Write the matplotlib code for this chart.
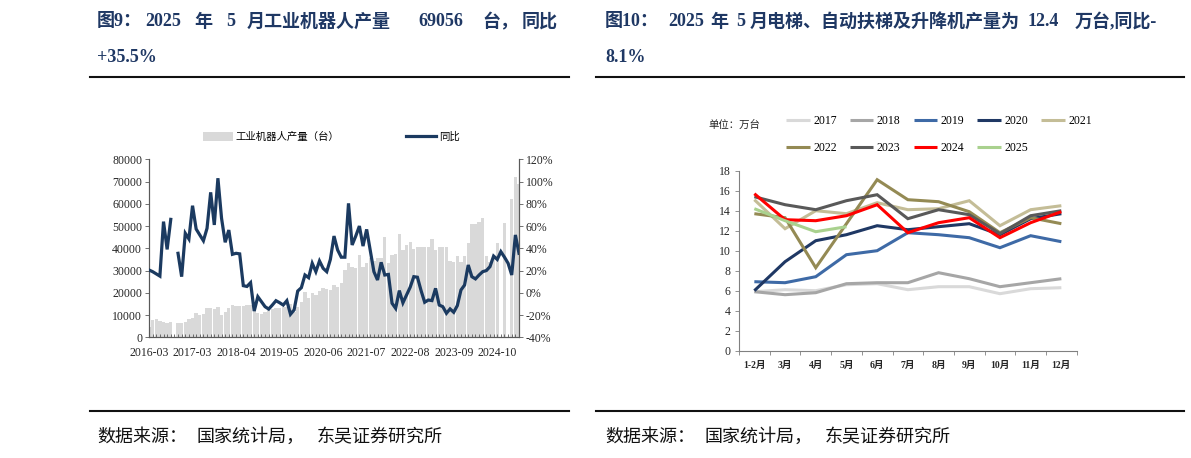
import numpy as np
import matplotlib
matplotlib.use("Agg")
import matplotlib.pyplot as plt
from matplotlib.patches import Patch
from matplotlib.lines import Line2D
from matplotlib.ticker import FixedLocator, FuncFormatter, MultipleLocator

nan = np.nan

# ---------------- Left chart data: industrial robot output ----------------
# months: 2016-03 .. 2017-02 full, afterwards January merged (Feb .. Dec), up to 2025-05
months = [f"2016-{m:02d}" for m in range(3, 13)] + ["2017-01", "2017-02"]
months += [f"2017-{m:02d}" for m in range(3, 13)]
for yr in range(2018, 2025):
    months += [f"{yr}-{m:02d}" for m in range(2, 13)]
months += [f"2025-{m:02d}" for m in range(2, 6)]

robot_output = [
    4800, 7800, 8200, 7500, 7000, 6600, 7000, nan, 6300, 6300,
    7000, 8100, 8500, 10800, 10200, 10500, 13000, 13000, 12700, 13500,
    10000, 11500, 13000, 14500, 14200, 14100, 14200, 14500, 14500, 15300,
    10800, 10300, 11500, 12300, 12700, 13000, 13300, 13800, 13800, 15000,
    11500, 13800, 16000, 20500, 17500, 19800, 19000, 21000, 22000, 21600,
    21300, 23500, 22800, 24300, 30200, 33500, 31400, 31000, 37000, 31400,
    33200, 35500, 34500, 35500, 35500, 45000, 33200, 37000, 37500, 46400,
    39200, 41500, 43000, 39600, 40400, 40700, 40700, 40500, 44000, 39200,
    40700, 40700, 40400, 34500, 33700, 36600, 33700, 36600, 42200, 51000,
    51000, 52000, 53500, 36600, 33700, 36600, 42200, nan, 51200, nan,
    62200, 72000, 69056,
]

robot_yoy = [
    20.5, 19, 17, 15, 64, 39, 66, nan, 35.5, 14.5,
    53.5, 48.4, 78.3, 57.3, 52, 46.8, 58, 90.3, 61, 103,
    67, 45.4, 56.4, 34.6, 35.5, 35, 6.4, 5.7, 9.1, -16.4,
    -3.5, -8, -12.5, -14.6, -11, -7.1, -8.9, -11, -7.1, -19.3,
    -15.4, 1.6, 4.6, 16, 13.6, 26.5, 19, 28.6, 22, 19,
    30, 51, 38.5, 32, 32, 80.4, 43, 51, 60, 42,
    57, 38, 19, 11.5, 27.4, 16, 16.5, -9.4, -14, 2,
    -9, -2, 5, 14.5, 14, 2, -8.5, -6.5, -7, 4,
    -11, -12.5, -18.4, -14.5, -17.5, -11.5, 2.5, 7, 25, 14.5,
    12.5, 16, 19, 20, 23.5, 33, 30, 37, 32, 26.5,
    16, 52, 35.5,
]

left_legend = ["工业机器人产量（台）", "同比"]

# ---------------- Right chart data: elevators etc. (万台) ----------------
month_labels = ["1-2月", "3月", "4月", "5月", "6月", "7月", "8月", "9月", "10月", "11月", "12月"]
y2017 = [5.9, 6.1, 6.0, 6.6, 6.7, 6.1, 6.4, 6.4, 5.7, 6.2, 6.3]
y2018 = [5.9, 5.6, 5.8, 6.7, 6.8, 6.8, 7.8, 7.2, 6.4, 6.8, 7.2]
y2019 = [6.9, 6.8, 7.4, 9.6, 10.0, 11.8, 11.6, 11.3, 10.3, 11.5, 10.9]
y2020 = [6.0, 8.9, 11.0, 11.6, 12.5, 12.1, 12.4, 12.7, 11.6, 13.2, 13.7]
y2021 = [15.1, 12.2, 14.0, 13.7, 14.8, 14.1, 14.2, 15.0, 12.5, 14.1, 14.5]
y2022 = [13.7, 13.3, 8.3, 12.7, 17.1, 15.1, 14.9, 13.9, 11.8, 13.3, 12.7]
y2023 = [15.4, 14.6, 14.1, 15.0, 15.6, 13.2, 14.1, 13.6, 11.7, 13.5, 14.0]
y2024 = [15.7, 13.1, 13.0, 13.5, 14.6, 11.8, 12.8, 13.3, 11.3, 12.8, 13.9]
y2025 = [14.2, 13.0, 11.9, 12.4]
year_names = ["2017", "2018", "2019", "2020", "2021", "2022", "2023", "2024", "2025"]
year_series = [y2017, y2018, y2019, y2020, y2021, y2022, y2023, y2024, y2025]
year_colors = ["#d9d9d9", "#a6a6a6", "#3e6aa6", "#1f3864", "#c4bd97",
               "#948a54", "#595959", "#ff0000", "#a9d18e"]

# ---------------- Figure ----------------
W, H = 1191, 458
fig = plt.figure(figsize=(W / 100, H / 100), dpi=100)
fig.patch.set_facecolor("white")


def px(x):
    return x / W


def py(y):
    return 1 - y / H


SERIF_CJK = ["Liberation Serif", "Noto Sans CJK SC"]
TITLE_C = "#1f3864"
NAVY = "#1b3a60"
SPINE_C = "#595959"
TXT_C = "#262626"
TFS = 13

# ----- titles -----
left_title_parts = [("图9：", 97), ("2025", 145), ("年", 194), ("5", 226),
                    ("月工业机器人产量", 247), ("69056", 418), ("台，", 482), ("同比", 522)]
for s, x in left_title_parts:
    fig.text(px(x), py(22), s, family=SERIF_CJK, weight="bold", fontsize=TFS,
             color=TITLE_C, ha="left", va="center")
fig.text(px(97), py(58), "+35.5%", family=SERIF_CJK, weight="bold", fontsize=TFS,
         color=TITLE_C, ha="left", va="center")

right_title_parts = [("图10：", 605), ("2025", 668), ("年", 710), ("5", 736),
                     ("月电梯、自动扶梯及升降机产量为", 750), ("12.4", 1028), ("万台,同比-", 1075)]
for s, x in right_title_parts:
    fig.text(px(x), py(22), s, family=SERIF_CJK, weight="bold", fontsize=TFS,
             color=TITLE_C, ha="left", va="center")
fig.text(px(605), py(58), "8.1%", family=SERIF_CJK, weight="bold", fontsize=TFS,
         color=TITLE_C, ha="left", va="center")

# separator lines
for (x0, x1) in [(90, 569), (596, 1184)]:
    for yy in (77, 411):
        fig.add_artist(Line2D([px(x0), px(x1)], [py(yy), py(yy)], color="#111111", lw=1.5))

# sources
src_parts = [("数据来源：", 0), ("国家统计局，", 100), ("东吴证券研究所", 220)]
for base in (97, 605):
    for s, dx in src_parts:
        fig.text(px(base + dx), py(437), s, family=["Noto Sans CJK SC"], fontsize=13,
                 color="#111111", ha="left", va="center")

# ----- left chart -----
ax1 = fig.add_axes([px(149), py(337.3), px(519) - px(149), py(159.3) - py(337.3)])
x = np.arange(len(robot_output))
ax1.bar(x, robot_output, width=0.92, color="#d9d9d9", linewidth=0, zorder=1)
ax1.set_xlim(0, len(robot_output) - 1)
ax1.set_ylim(0, 80000)
ax1.yaxis.set_major_locator(MultipleLocator(10000))
ax1.xaxis.set_major_locator(FixedLocator(x[::12]))
ax1.set_xticklabels([months[i] for i in x[::12]])
ax1.xaxis.set_minor_locator(FixedLocator(x))
ax1.tick_params(axis="x", which="both", length=2.5, width=0.6, color=SPINE_C, direction="in",
                labelsize=8.5, labelcolor=TXT_C, pad=7)
ax1.tick_params(axis="y", length=3, width=0.6, color=SPINE_C, labelsize=8.5, labelcolor=TXT_C, pad=2)
for lab in ax1.get_xticklabels() + ax1.get_yticklabels():
    lab.set_family("Liberation Serif")
ax1.spines["top"].set_visible(False)
for side in ("left", "right", "bottom"):
    ax1.spines[side].set_color(SPINE_C)
    ax1.spines[side].set_linewidth(0.8)
ax1.patch.set_alpha(0)

ax2 = ax1.twinx()
ax2.plot(x, robot_yoy, color=NAVY, lw=2.3, solid_joinstyle="miter", zorder=3)
ax2.set_ylim(-40, 120)
ax2.yaxis.set_major_locator(MultipleLocator(20))
ax2.yaxis.set_major_formatter(FuncFormatter(lambda v, p: f"{v:.0f}%"))
ax2.tick_params(axis="y", length=3, width=0.6, color=SPINE_C, labelsize=8.5, labelcolor=TXT_C, pad=2)
for lab in ax2.get_yticklabels():
    lab.set_family("Liberation Serif")
ax2.spines["top"].set_visible(False)
for side in ("left", "right", "bottom"):
    ax2.spines[side].set_color(SPINE_C)
    ax2.spines[side].set_linewidth(0.8)

fig.legend([Patch(facecolor="#d9d9d9", edgecolor="none"), Line2D([], [], color=NAVY, lw=2.3)],
           left_legend, loc="center left", bbox_to_anchor=(px(203), py(137)), ncol=2,
           frameon=False, prop={"family": ["Noto Sans CJK SC"], "size": 7.5},
           handlelength=2.9, handleheight=1.0, handletextpad=0.25, columnspacing=6.4,
           borderpad=0, borderaxespad=0)

# ----- right chart -----
ax3 = fig.add_axes([px(739), py(350.7), px(1076.7) - px(739), py(170.7) - py(350.7)])
handles = {}
for name, ser, col in zip(year_names, year_series, year_colors):
    (h,) = ax3.plot(np.arange(len(ser)), ser, color=col, lw=2.2, solid_joinstyle="miter",
                    solid_capstyle="butt", label=name)
    handles[name] = h
ax3.set_xlim(-0.5, len(month_labels) - 0.5)
ax3.set_ylim(0, 18)
ax3.yaxis.set_major_locator(MultipleLocator(2))
ax3.xaxis.set_major_locator(FixedLocator(np.arange(len(month_labels))))
ax3.set_xticklabels(month_labels)
ax3.xaxis.set_minor_locator(FixedLocator(np.arange(len(month_labels) + 1) - 0.5))
ax3.tick_params(axis="x", which="major", length=0, labelsize=7, labelcolor=TXT_C, pad=7)
ax3.tick_params(axis="x", which="minor", length=3, width=0.6, color="#808080", direction="out")
ax3.tick_params(axis="y", length=3, width=0.6, color="#808080", labelsize=8.5, labelcolor=TXT_C, pad=3)
for lab in ax3.get_xticklabels():
    lab.set_family(SERIF_CJK)
    lab.set_weight("bold")
for lab in ax3.get_yticklabels():
    lab.set_family("Liberation Serif")
for side in ("top", "right"):
    ax3.spines[side].set_visible(False)
for side in ("left", "bottom"):
    ax3.spines[side].set_color("#808080")
    ax3.spines[side].set_linewidth(0.8)

fig.text(px(708), py(125), "单位：万台", family=["Noto Sans CJK SC"], fontsize=7.5,
         color=TXT_C, ha="left", va="center")
order = ["2017", "2022", "2018", "2023", "2019", "2024", "2020", "2025", "2021"]
fig.legend([handles[n] for n in order], order, loc="upper left",
           bbox_to_anchor=(px(786), py(115)), ncol=5, frameon=False,
           prop={"family": "Liberation Serif", "size": 8.5},
           handlelength=2.0, handletextpad=0.3, columnspacing=1.1, labelspacing=1.3,
           borderpad=0, borderaxespad=0)

fig.savefig("out.png", dpi=100, facecolor="white")
